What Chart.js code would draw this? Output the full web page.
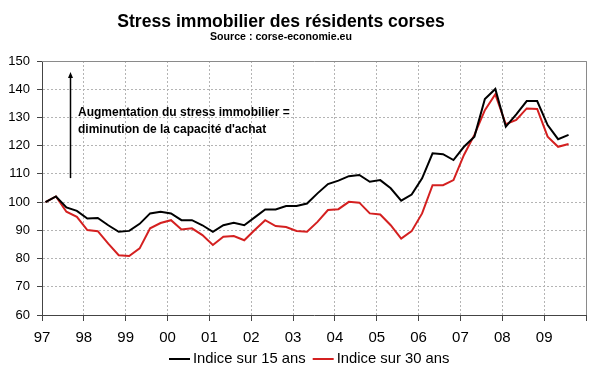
<!DOCTYPE html>
<html>
<head>
<meta charset="utf-8">
<script src="https://cdn.jsdelivr.net/npm/chart.js@4/dist/chart.umd.min.js"></script>
<style>
  html, body { margin: 0; padding: 0; background: #fff; }
  #wrap { width: 600px; height: 372px; }
</style>
</head>
<body>
<div id="wrap"><canvas id="myChart" width="600" height="372"></canvas></div>
<script>
// Titres et textes
const chartTitle = "Stress immobilier des résidents corses";
const chartSource = "Source : corse-economie.eu";
const noteLines = ["Augmentation du stress immobilier =", "diminution de la capacité d'achat"];

// Trimestres (1997 T1 -> 2009 T3)
const quarters = [
  "1997T1", "1997T2", "1997T3", "1997T4", "1998T1", "1998T2", "1998T3", "1998T4",
  "1999T1", "1999T2", "1999T3", "1999T4", "2000T1", "2000T2", "2000T3", "2000T4",
  "2001T1", "2001T2", "2001T3", "2001T4", "2002T1", "2002T2", "2002T3", "2002T4",
  "2003T1", "2003T2", "2003T3", "2003T4", "2004T1", "2004T2", "2004T3", "2004T4",
  "2005T1", "2005T2", "2005T3", "2005T4", "2006T1", "2006T2", "2006T3", "2006T4",
  "2007T1", "2007T2", "2007T3", "2007T4", "2008T1", "2008T2", "2008T3", "2008T4",
  "2009T1", "2009T2", "2009T3"
];

// Indice sur 15 ans
const indice15 = [
  100, 102, 98.1, 96.9, 94.2, 94.4, 91.8, 89.5, 89.8, 92.3,
  96.0, 96.6, 96.0, 93.6, 93.6, 91.8, 89.5, 91.8, 92.7, 91.8,
  94.6, 97.4, 97.4, 98.6, 98.6, 99.5, 103.1, 106.4, 107.6, 109.2,
  109.6, 107.2, 107.8, 104.9, 100.5, 102.7, 108.4, 117.3, 117.0, 114.9,
  119.6, 123.2, 136.5, 140.1, 126.7, 131.1, 135.8, 135.8, 127.3, 122.3, 123.8
];

// Indice sur 30 ans
const indice30 = [
  100, 102, 96.6, 94.8, 90.1, 89.7, 85.3, 81.2, 80.9, 83.6,
  90.7, 92.6, 93.6, 90.3, 90.7, 88.3, 84.8, 87.7, 88.0, 86.5,
  90.1, 93.6, 91.5, 91.2, 89.8, 89.5, 93.0, 97.2, 97.5, 100.1,
  99.8, 96.0, 95.6, 91.8, 87.1, 89.7, 96.0, 106.0, 106.0, 107.8,
  116.7, 123.8, 132.6, 138.2, 127.6, 129.1, 133.2, 133.0, 123.2, 119.6, 120.6
];

// Etiquettes de l'axe des annees
const yearLabels = ["97", "98", "99", "00", "01", "02", "03", "04", "05", "06", "07", "08", "09"];

// Chaque trimestre est place sur son 2e mois
function quarterToX(q) {
  const year = parseInt(q.slice(0, 4));
  const t = parseInt(q.slice(5));
  return year + (3 * (t - 1) + 1) / 12;
}

const serie15 = quarters.map((q, i) => ({ x: quarterToX(q), y: indice15[i] }));
const serie30 = quarters.map((q, i) => ({ x: quarterToX(q), y: indice30[i] }));

// Plugin pour titre, note, cadre et legende
const decorPlugin = {
  id: "decor",
  beforeDatasetsDraw(chart) {
    const { ctx, chartArea } = chart;
    ctx.save();
    ctx.strokeStyle = "#8a8a8a";
    ctx.lineWidth = 1;
    ctx.beginPath();
    ctx.moveTo(chartArea.left, chartArea.top + 0.5);
    ctx.lineTo(chartArea.right + 0.5, chartArea.top + 0.5);
    ctx.lineTo(chartArea.right + 0.5, chartArea.bottom);
    ctx.stroke();
    ctx.restore();
  },
  afterDraw(chart) {
    const { ctx } = chart;
    const xs = chart.scales.x;
    const ys = chart.scales.y;
    ctx.save();
    ctx.fillStyle = "#000";
    ctx.textAlign = "center";
    ctx.textBaseline = "alphabetic";
    ctx.font = "bold 17.6px 'Liberation Sans', Arial, sans-serif";
    ctx.fillText(chartTitle, 281, 27);
    ctx.font = "bold 10.6px 'Liberation Sans', Arial, sans-serif";
    ctx.fillText(chartSource, 281, 40);

    // fleche
    const ax = Math.round(xs.getPixelForValue(1997.67)) + 0.5;
    const ay1 = ys.getPixelForValue(108.5);
    const ay2 = ys.getPixelForValue(146.1);
    ctx.strokeStyle = "#000";
    ctx.lineWidth = 1.5;
    ctx.beginPath();
    ctx.moveTo(ax, ay1);
    ctx.lineTo(ax, ay2 + 4);
    ctx.stroke();
    ctx.beginPath();
    ctx.moveTo(ax, ay2);
    ctx.lineTo(ax - 2.5, ay2 + 6);
    ctx.lineTo(ax + 2.5, ay2 + 6);
    ctx.closePath();
    ctx.fill();

    // note
    ctx.textAlign = "left";
    ctx.textBaseline = "middle";
    ctx.font = "bold 12px 'Liberation Sans', Arial, sans-serif";
    const nx = xs.getPixelForValue(1997.86);
    ctx.fillText(noteLines[0], nx, ys.getPixelForValue(131.7));
    ctx.fillText(noteLines[1], nx, ys.getPixelForValue(125.8));

    // legende
    ctx.font = "14.8px 'Liberation Sans', Arial, sans-serif";
    let lx = 169;
    const ly = 359;
    chart.data.datasets.forEach((ds) => {
      ctx.strokeStyle = ds.borderColor;
      ctx.lineWidth = 2;
      ctx.beginPath();
      ctx.moveTo(lx, ly);
      ctx.lineTo(lx + 21, ly);
      ctx.stroke();
      ctx.fillText(ds.label, lx + 24, ly);
      lx += 24 + ctx.measureText(ds.label).width + 7;
    });
    ctx.restore();
  }
};

const gridOpts = {
  color: "#b4b4b4",
  lineWidth: 1,
  tickColor: "#444",
  tickBorderDash: [],
};

const ctx = document.getElementById("myChart").getContext("2d");
const myChart = new Chart(ctx, {
  type: "line",
  data: {
    datasets: [
      {
        label: "Indice sur 15 ans",
        data: serie15,
        borderColor: "#000000",
        borderWidth: 2,
        pointRadius: 0,
        tension: 0,
        fill: false,
      },
      {
        label: "Indice sur 30 ans",
        data: serie30,
        borderColor: "#d42020",
        borderWidth: 2,
        pointRadius: 0,
        tension: 0,
        fill: false,
      },
    ],
  },
  options: {
    responsive: false,
    animation: false,
    devicePixelRatio: 1,
    layout: { padding: { top: 61, right: 14, left: 0, bottom: 0 } },
    plugins: {
      legend: { display: false },
      title: { display: false },
      tooltip: { enabled: false },
    },
    scales: {
      x: {
        type: "linear",
        min: 1997,
        max: 2010,
        afterFit: (s) => { s.height = 57; },
        afterBuildTicks: (s) => {
          s.ticks = yearLabels.map((l, i) => ({ value: 1997 + i })).concat([{ value: 2010 }]);
        },
        ticks: {
          autoSkip: false,
          maxRotation: 0,
          padding: 8,
          color: "#000",
          font: { size: 15, family: "'Liberation Sans', Arial, sans-serif" },
          callback: function (value) {
            const i = Math.round(value) - 1997;
            return yearLabels[i] !== undefined ? yearLabels[i] : "";
          },
        },
        grid: Object.assign({ tickLength: 6 }, gridOpts),
        border: { display: true, color: "#444", width: 1, dash: [2, 2] },
      },
      y: {
        min: 60,
        max: 150,
        afterFit: (s) => { s.width = 42; },
        ticks: {
          stepSize: 10,
          padding: 7,
          color: "#000",
          font: { size: 13, family: "'Liberation Sans', Arial, sans-serif" },
        },
        grid: Object.assign({ tickLength: 5 }, gridOpts),
        border: { display: true, color: "#444", width: 1, dash: [2, 2] },
      },
    },
  },
  plugins: [decorPlugin],
});
</script>
</body>
</html>
